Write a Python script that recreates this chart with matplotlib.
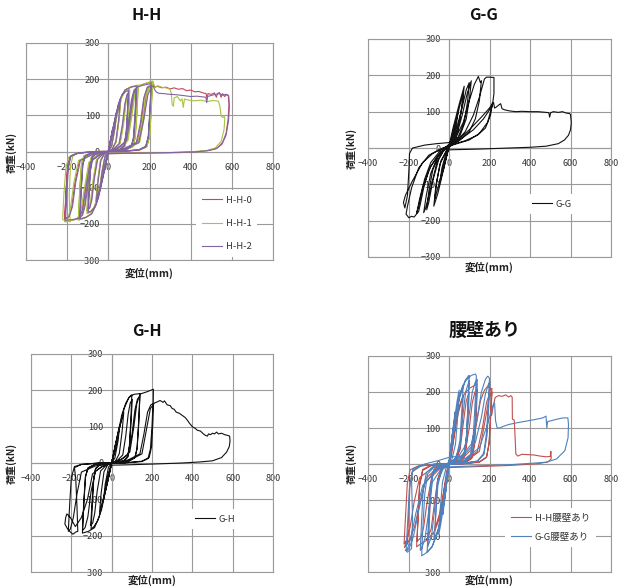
import matplotlib
matplotlib.use('Agg')
import matplotlib.pyplot as plt

plt.rcParams['font.family'] = ['Noto Sans CJK JP', 'DejaVu Sans']

# ---------------- data (displacement mm, load kN) ----------------
XTICKS = [-400, -200, 0, 200, 400, 600, 800]
YTICKS = [-300, -200, -100, 0, 100, 200, 300]

TITLES = ['H-H', 'G-G', 'G-H', '腰壁あり']
XLABEL = '変位(mm)'
YLABEL = '荷重(kN)'

HH0_PTS = [
    (0, 0), (10, 30), (20, 58), (12, 30), (0, 2), (-10, -28), (-20, -55), (-12, -28), (0, -1),
    (0, 0), (20, 55), (40, 108), (32, 65), (16, 15), (0, 0), (-20, -52), (-40, -102), (-32, -60), (-16, -13), (0, 0),
    (30, 78), (60, 142), (52, 90), (38, 28), (18, 5), (0, 0), (-30, -75), (-60, -138), (-52, -85), (-38, -26), (-18, -4), (0, 0),
    (28, 72), (50, 132), (68, 158), (86, 168), (100, 172), (95, 118), (88, 48), (80, 18), (58, 6), (28, 1), (0, 0),
    (-28, -70), (-50, -128), (-68, -155), (-86, -166), (-100, -170), (-95, -115), (-88, -45), (-80, -16), (-58, -5), (-28, -1), (0, 0),
    (30, 8), (55, 22), (70, 72), (82, 130), (92, 158), (100, 165), (95, 108), (88, 44), (80, 16), (60, 5), (30, 1), (0, 0),
    (-30, -8), (-55, -22), (-70, -75), (-82, -132), (-92, -156), (-100, -162), (-95, -105), (-88, -42), (-80, -15), (-60, -5), (-30, -1), (0, 0),
    (20, 40), (40, 100), (60, 145), (82, 170), (110, 178), (140, 182), (134, 112), (126, 42), (116, 15), (85, 5), (35, 0), (0, 0),
    (-20, -38), (-40, -98), (-60, -145), (-82, -172), (-110, -182), (-140, -188), (-134, -112), (-126, -40), (-116, -14), (-85, -4), (-35, 0), (0, 0),
    (40, 8), (80, 22), (100, 72), (115, 140), (128, 170), (140, 176), (134, 105), (126, 38), (114, 14), (80, 4), (30, 0), (0, 0),
    (-40, -8), (-80, -22), (-100, -75), (-115, -145), (-128, -175), (-140, -182), (-134, -105), (-126, -36), (-114, -13), (-80, -4), (-30, 0), (0, 0),
    (50, 10), (90, 30), (110, 100), (125, 160), (142, 181), (170, 186), (210, 193), (204, 120), (196, 45), (184, 15), (150, 5), (60, 0), (0, 0),
    (-50, -10), (-90, -30), (-112, -105), (-128, -165), (-145, -186), (-175, -190), (-212, -193), (-206, -120), (-198, -45), (-186, -15), (-150, -5), (-60, 0), (0, 0),
    (80, 8), (140, 25), (160, 80), (175, 150), (190, 178), (210, 186), (204, 112), (196, 40), (182, 13), (150, 4), (60, 0), (0, 0),
    (-80, -8), (-140, -25), (-162, -85), (-178, -155), (-194, -182), (-212, -188), (-206, -112), (-198, -40), (-184, -13), (-150, -4), (-60, 0), (0, 0),
    (90, 8), (150, 25), (170, 90), (185, 160), (200, 182), (215, 192), (225, 178), (240, 180), (260, 176), (280, 178), (300, 173), (320, 176), (340, 172), (360, 174), (380, 168), (400, 170), (420, 165), (440, 166), (460, 162), (475, 160), (480, 145), (484, 160), (500, 158), (515, 162), (525, 150), (530, 160), (540, 163), (548, 150), (555, 160), (565, 152), (575, 158), (583, 155), (586, 130), (582, 90), (572, 50), (555, 25), (530, 10), (490, 3), (440, 0), (350, -3), (200, -4), (60, -5), (0, -6),
]

HH1_PTS = [
    (0, 0), (10, 28), (20, 55), (12, 28), (0, 2), (-10, -27), (-20, -52), (-12, -26), (0, -1),
    (0, 0), (20, 52), (40, 104), (32, 62), (16, 14), (0, 0), (-20, -50), (-40, -100), (-32, -58), (-16, -12), (0, 0),
    (30, 75), (60, 138), (52, 86), (38, 26), (18, 4), (0, 0), (-30, -72), (-60, -135), (-52, -82), (-38, -24), (-18, -3), (0, 0),
    (28, 70), (50, 128), (70, 158), (88, 170), (104, 174), (98, 115), (90, 46), (82, 17), (60, 6), (28, 1), (0, 0),
    (-28, -68), (-50, -125), (-70, -155), (-88, -168), (-104, -172), (-98, -112), (-90, -44), (-82, -15), (-60, -5), (-28, -1), (0, 0),
    (32, 8), (58, 22), (74, 75), (86, 135), (96, 160), (104, 166), (98, 105), (90, 42), (82, 15), (60, 5), (30, 1), (0, 0),
    (-32, -8), (-58, -22), (-74, -78), (-86, -136), (-96, -158), (-104, -164), (-98, -102), (-90, -40), (-82, -14), (-60, -5), (-30, -1), (0, 0),
    (22, 42), (44, 104), (64, 148), (88, 172), (116, 180), (145, 184), (139, 110), (131, 40), (120, 14), (88, 5), (35, 0), (0, 0),
    (-22, -40), (-44, -100), (-64, -148), (-88, -175), (-116, -185), (-146, -190), (-139, -110), (-131, -38), (-120, -13), (-88, -4), (-35, 0), (0, 0),
    (44, 8), (84, 22), (104, 75), (119, 142), (132, 172), (145, 178), (139, 104), (130, 36), (118, 13), (82, 4), (30, 0), (0, 0),
    (-44, -8), (-84, -22), (-104, -78), (-119, -148), (-132, -178), (-145, -184), (-139, -104), (-130, -34), (-118, -12), (-82, -4), (-30, 0), (0, 0),
    (55, 10), (95, 30), (115, 100), (130, 162), (148, 182), (178, 188), (215, 195), (209, 118), (201, 44), (188, 15), (154, 5), (60, 0), (0, 0),
    (-55, -10), (-95, -30), (-118, -108), (-134, -168), (-152, -186), (-185, -192), (-215, -190), (-222, -188), (-216, -118), (-206, -44), (-192, -15), (-155, -5), (-60, 0), (0, 0),
    (84, 8), (144, 25), (164, 82), (180, 152), (196, 180), (214, 188), (208, 110), (200, 38), (186, 12), (152, 4), (60, 0), (0, 0),
    (-84, -8), (-145, -25), (-168, -88), (-184, -158), (-198, -190), (-208, -195), (-196, -192), (-186, -195), (-190, -120), (-184, -40), (-172, -12), (-150, -4), (-60, 0), (0, 0),
    (92, 8), (152, 25), (174, 92), (190, 162), (206, 186), (218, 193), (224, 176), (240, 182), (258, 178), (280, 176), (300, 172), (306, 160), (310, 130), (316, 125), (320, 148), (335, 152), (350, 140), (358, 146), (364, 122), (370, 145), (390, 142), (420, 140), (450, 142), (480, 138), (510, 141), (535, 139), (542, 125), (548, 98), (556, 94), (563, 97), (566, 92), (562, 60), (548, 28), (520, 10), (480, 3), (420, 0), (300, -3), (120, -5), (0, -6),
]

HH2_PTS = [
    (0, 0), (10, 32), (20, 60), (12, 32), (0, 2), (-10, -30), (-20, -57), (-12, -29), (0, -1),
    (0, 0), (20, 57), (40, 110), (32, 66), (16, 15), (0, 0), (-20, -54), (-40, -105), (-32, -62), (-16, -14), (0, 0),
    (30, 80), (58, 140), (50, 88), (36, 27), (16, 4), (0, 0), (-30, -77), (-58, -136), (-50, -84), (-36, -25), (-16, -3), (0, 0),
    (26, 74), (48, 130), (66, 156), (84, 166), (98, 168), (93, 114), (86, 46), (78, 17), (56, 6), (26, 1), (0, 0),
    (-26, -72), (-48, -128), (-66, -154), (-84, -165), (-98, -168), (-93, -112), (-86, -44), (-78, -15), (-56, -5), (-26, -1), (0, 0),
    (28, 8), (52, 22), (68, 74), (80, 132), (90, 156), (98, 162), (93, 104), (86, 42), (78, 15), (58, 5), (28, 1), (0, 0),
    (-28, -8), (-52, -22), (-68, -76), (-80, -134), (-90, -156), (-98, -160), (-93, -102), (-86, -40), (-78, -14), (-58, -5), (-28, -1), (0, 0),
    (18, 42), (38, 102), (58, 146), (80, 170), (108, 178), (136, 181), (130, 110), (122, 40), (112, 14), (82, 5), (32, 0), (0, 0),
    (-18, -40), (-38, -100), (-58, -146), (-80, -172), (-108, -182), (-138, -186), (-132, -110), (-124, -38), (-114, -13), (-82, -4), (-32, 0), (0, 0),
    (38, 8), (76, 22), (96, 74), (112, 142), (125, 170), (137, 176), (131, 104), (123, 36), (110, 13), (78, 4), (28, 0), (0, 0),
    (-38, -8), (-76, -22), (-96, -78), (-112, -148), (-125, -176), (-138, -182), (-132, -104), (-124, -34), (-110, -12), (-78, -4), (-28, 0), (0, 0),
    (48, 10), (88, 30), (108, 100), (122, 158), (140, 178), (168, 183), (208, 188), (202, 116), (194, 42), (182, 14), (148, 5), (60, 0), (0, 0),
    (-48, -10), (-88, -30), (-110, -104), (-126, -164), (-143, -184), (-172, -188), (-208, -190), (-202, -118), (-194, -44), (-182, -14), (-148, -5), (-60, 0), (0, 0),
    (76, 8), (136, 25), (156, 80), (172, 148), (188, 176), (208, 182), (202, 108), (194, 38), (180, 12), (148, 4), (60, 0), (0, 0),
    (-76, -8), (-136, -25), (-158, -84), (-174, -152), (-190, -180), (-210, -185), (-204, -108), (-196, -38), (-182, -12), (-148, -4), (-60, 0), (0, 0),
    (86, 8), (148, 25), (172, 88), (192, 156), (208, 178), (218, 182), (224, 172), (232, 165), (245, 161), (270, 160), (300, 158), (330, 157), (360, 155), (400, 152), (430, 153), (460, 151), (474, 150), (478, 135), (482, 152), (500, 155), (520, 158), (540, 160), (555, 156), (570, 158), (585, 154), (588, 125), (584, 85), (572, 45), (552, 20), (522, 7), (480, 2), (420, -1), (300, -3), (120, -5), (0, -6),
]

GG_PTS = [
    (0, 0), (15, 35), (30, 70), (20, 40), (0, 5), (-15, -30), (-30, -65), (-20, -35), (0, 0),
    (20, 45), (45, 100), (35, 60), (15, 20), (0, 5), (-20, -40), (-45, -95), (-35, -55), (-15, -15), (0, 5),
    (25, 50), (55, 120), (70, 150), (60, 100), (40, 40), (15, 15), (0, 5), (-25, -45), (-55, -110), (-70, -140), (-60, -90), (-40, -35), (-15, -10), (0, 5),
    (20, 55), (50, 120), (75, 170), (66, 120), (45, 55), (15, 15), (0, 5), (-25, -55), (-55, -125), (-75, -160), (-66, -110), (-45, -45), (-15, -10), (0, 5),
    (30, 40), (60, 100), (85, 160), (100, 180), (92, 130), (75, 70), (45, 30), (10, 12), (-20, 0), (-50, -30), (-80, -90), (-100, -150), (-110, -170), (-100, -120), (-80, -60), (-50, -20), (-10, 5),
    (35, 30), (65, 90), (90, 150), (110, 185), (102, 140), (85, 80), (55, 35), (15, 12), (-25, -5), (-60, -40), (-90, -110), (-115, -165), (-125, -178), (-112, -130), (-90, -70), (-55, -22), (-10, 4),
    (30, 25), (70, 70), (100, 130), (125, 175), (145, 197), (155, 180), (160, 185), (150, 130), (130, 80), (100, 45), (50, 20), (0, 8), (-40, -10), (-90, -50), (-130, -110), (-150, -160), (-160, -180), (-145, -140), (-120, -85), (-90, -40), (-40, -5), (0, 8),
    (40, 20), (80, 45), (120, 90), (150, 140), (175, 190), (185, 195), (200, 195), (222, 194), (222, 150), (215, 120), (190, 70), (150, 40), (100, 22), (40, 12), (0, 5), (-50, -5), (-100, -20), (-150, -55), (-185, -110), (-205, -160), (-212, -182), (-198, -192), (-185, -188), (-172, -190), (-158, -180), (-150, -175), (-140, -150), (-125, -110), (-100, -60), (-60, -25), (-20, -5), (10, 6),
    (60, 25), (120, 50), (170, 80), (200, 105), (215, 125), (205, 90), (180, 55), (140, 35), (80, 20), (20, 10), (-30, 0), (-80, -15), (-130, -40), (-180, -90), (-215, -130), (-225, -150), (-218, -165), (-205, -130), (-198, -60), (-195, -15), (-180, 0), (-120, 8), (-60, 12), (0, 15),
    (50, 25), (100, 50), (160, 85), (200, 110), (220, 125), (225, 110), (232, 112), (245, 118), (255, 122), (262, 108), (275, 105), (300, 102), (330, 100), (360, 101), (400, 100), (440, 100), (480, 98), (493, 97), (497, 85), (502, 97), (515, 100), (540, 98), (560, 100), (580, 96), (595, 95), (600, 92), (604, 70), (600, 50), (590, 35), (570, 22), (540, 12), (480, 5), (400, 2), (300, 0), (150, -3), (0, -5),
]

GH_PTS = [
    (0, 0), (12, 32), (22, 58), (15, 32), (0, 2), (-12, -30), (-22, -55), (-15, -30), (0, -1),
    (0, 0), (20, 55), (40, 105), (32, 62), (16, 14), (0, 0), (-20, -52), (-40, -100), (-32, -58), (-16, -12), (0, 0),
    (30, 78), (60, 140), (52, 88), (38, 26), (18, 4), (0, 0), (-30, -75), (-60, -135), (-52, -82), (-38, -24), (-18, -3), (0, 0),
    (28, 72), (50, 132), (70, 165), (88, 182), (100, 188), (95, 120), (88, 48), (80, 18), (58, 6), (28, 1), (0, 0),
    (-28, -70), (-50, -128), (-70, -160), (-88, -175), (-102, -182), (-96, -115), (-89, -45), (-80, -16), (-58, -5), (-28, -1), (0, 0),
    (30, 8), (55, 22), (70, 75), (82, 135), (92, 165), (102, 175), (96, 110), (88, 44), (80, 16), (60, 5), (30, 1), (0, 0),
    (-30, -8), (-55, -22), (-72, -78), (-84, -138), (-94, -165), (-104, -172), (-97, -105), (-89, -42), (-80, -15), (-60, -5), (-30, -1), (0, 0),
    (20, 40), (40, 100), (62, 150), (85, 180), (110, 189), (140, 191), (134, 115), (126, 42), (116, 15), (85, 5), (35, 0), (0, 0),
    (-20, -38), (-40, -98), (-62, -148), (-85, -178), (-115, -188), (-145, -193), (-138, -112), (-130, -40), (-118, -14), (-85, -4), (-35, 0), (0, 0),
    (40, 8), (80, 22), (100, 75), (115, 145), (128, 176), (140, 184), (134, 105), (126, 38), (114, 14), (80, 4), (30, 0), (0, 0),
    (-40, -8), (-80, -22), (-102, -78), (-118, -148), (-132, -178), (-145, -186), (-138, -105), (-130, -36), (-116, -13), (-80, -4), (-30, 0), (0, 0),
    (50, 10), (90, 30), (110, 100), (125, 165), (142, 190), (175, 196), (207, 203), (205, 120), (198, 45), (186, 15), (150, 5), (60, 0), (0, 0),
    (-50, -10), (-95, -30), (-120, -100), (-150, -150), (-180, -175), (-205, -150), (-222, -140), (-228, -150), (-232, -168), (-220, -180), (-205, -190), (-192, -196), (-178, -190), (-168, -188), (-172, -120), (-178, -45), (-185, -10), (-150, -4), (-60, 0), (0, 0),
    (80, 8), (140, 25), (160, 80), (178, 140), (194, 160), (205, 163), (200, 100), (192, 38), (180, 12), (150, 4), (60, 0), (0, 0),
    (-80, -8), (-150, -25), (-172, -85), (-190, -150), (-205, -182), (-215, -188), (-208, -112), (-200, -40), (-186, -13), (-150, -4), (-60, 0), (0, 0),
    (90, 8), (150, 25), (172, 90), (192, 150), (205, 160), (212, 165), (225, 168), (240, 172), (255, 167), (262, 171), (275, 160), (290, 158), (300, 150), (310, 148), (320, 140), (335, 137), (350, 131), (365, 125), (375, 118), (385, 110), (400, 100), (415, 95), (425, 90), (440, 88), (455, 80), (465, 76), (475, 74), (480, 80), (490, 78), (500, 82), (510, 80), (520, 85), (530, 80), (545, 82), (560, 78), (575, 76), (585, 74), (587, 60), (583, 45), (570, 30), (545, 15), (500, 6), (440, 3), (350, 0), (200, -3), (80, -5), (0, -6),
]

HHW_PTS = [
    (0, 0), (10, 45), (20, 85), (13, 50), (0, 5), (-10, -42), (-20, -80), (-13, -45), (0, -3),
    (0, 0), (18, 75), (35, 135), (27, 85), (12, 22), (0, 2), (-18, -70), (-35, -128), (-27, -80), (-12, -20), (0, 0),
    (25, 90), (50, 160), (70, 190), (64, 120), (55, 50), (40, 15), (15, 3), (0, 0), (-25, -85), (-50, -155), (-70, -185), (-64, -115), (-55, -45), (-40, -13), (-15, -2), (0, 0),
    (30, 10), (55, 40), (70, 110), (85, 175), (100, 200), (94, 125), (86, 50), (75, 18), (45, 5), (0, 0),
    (-30, -10), (-55, -40), (-72, -110), (-88, -180), (-100, -198), (-94, -120), (-86, -45), (-75, -15), (-45, -4), (0, 0),
    (20, 60), (45, 140), (70, 190), (100, 210), (125, 218), (138, 222), (132, 140), (124, 55), (112, 18), (80, 5), (30, 0), (0, 0),
    (-20, -58), (-45, -135), (-75, -190), (-110, -212), (-140, -222), (-160, -230), (-153, -150), (-145, -60), (-130, -18), (-90, -5), (-30, 0), (0, 0),
    (40, 10), (80, 35), (100, 100), (115, 170), (128, 200), (140, 208), (134, 130), (126, 50), (112, 15), (80, 4), (30, 0), (0, 0),
    (-40, -10), (-85, -35), (-108, -105), (-125, -175), (-140, -205), (-158, -215), (-152, -140), (-145, -55), (-130, -15), (-90, -4), (-30, 0), (0, 0),
    (60, 12), (110, 40), (135, 110), (155, 175), (175, 205), (190, 215), (195, 212), (200, 218), (205, 205), (212, 210), (206, 140), (198, 60), (186, 20), (150, 6), (60, 0), (0, 0),
    (-60, -12), (-115, -40), (-145, -110), (-170, -175), (-195, -210), (-210, -225), (-220, -232), (-212, -215), (-205, -222), (-200, -150), (-193, -60), (-180, -18), (-140, -5), (-60, 0), (0, 0),
    (80, 10), (140, 35), (165, 100), (185, 170), (200, 195), (212, 200), (206, 135), (198, 55), (185, 18), (150, 5), (60, 0), (0, 0),
    (-80, -10), (-145, -38), (-172, -105), (-192, -175), (-208, -210), (-222, -222), (-214, -140), (-206, -55), (-192, -16), (-150, -5), (-60, 0), (0, 0),
    (90, 10), (150, 35), (175, 110), (195, 175), (210, 200), (210, 135), (215, 150), (228, 185), (245, 190), (262, 188), (280, 192), (295, 186), (305, 190), (312, 186), (313, 125), (322, 122), (326, 80), (330, 28), (340, 22), (360, 27), (390, 26), (420, 25), (450, 22), (480, 20), (500, 21), (503, 35), (505, 15), (490, 6), (440, 1), (300, -4), (100, -8), (0, -10),
]

GGW_PTS = [
    (0, 0), (10, 50), (20, 100), (14, 60), (0, 8), (-10, -45), (-20, -95), (-14, -55), (0, -5),
    (0, 0), (15, 75), (30, 145), (24, 95), (10, 28), (0, 4), (-15, -70), (-30, -140), (-24, -90), (-10, -24), (0, 0),
    (20, 95), (40, 175), (50, 205), (44, 140), (32, 55), (14, 12), (0, 0), (-20, -90), (-40, -165), (-50, -195), (-44, -130), (-32, -50), (-14, -10), (0, 0),
    (25, 105), (50, 190), (70, 220), (64, 155), (54, 65), (36, 18), (12, 3), (0, 0), (-25, -100), (-50, -180), (-72, -210), (-66, -150), (-55, -60), (-36, -15), (-12, -2), (0, 0),
    (25, 100), (55, 195), (80, 232), (95, 244), (100, 246), (94, 170), (86, 75), (74, 25), (45, 6), (10, 0), (0, 0),
    (-25, -95), (-55, -190), (-82, -228), (-100, -240), (-108, -245), (-102, -165), (-94, -70), (-80, -22), (-45, -5), (-10, 0), (0, 0),
    (30, 15), (55, 50), (68, 130), (82, 200), (100, 232), (94, 160), (86, 70), (72, 22), (45, 5), (0, 0),
    (-30, -15), (-58, -50), (-72, -130), (-86, -200), (-105, -230), (-98, -155), (-90, -65), (-76, -20), (-45, -4), (0, 0),
    (20, 80), (50, 180), (80, 230), (110, 246), (130, 250), (135, 245), (129, 170), (120, 80), (106, 25), (70, 6), (20, 0), (0, 0),
    (-20, -75), (-50, -175), (-85, -232), (-115, -248), (-135, -255), (-129, -175), (-120, -85), (-106, -28), (-70, -6), (-20, 0), (0, 0),
    (40, 15), (80, 50), (98, 130), (115, 200), (130, 228), (140, 235), (134, 160), (126, 70), (110, 22), (75, 5), (20, 0), (0, 0),
    (-40, -15), (-82, -50), (-100, -130), (-118, -205), (-135, -235), (-142, -240), (-136, -165), (-128, -75), (-112, -24), (-75, -5), (-20, 0), (0, 0),
    (60, 20), (110, 55), (140, 130), (160, 200), (178, 232), (185, 240), (192, 244), (200, 238), (194, 170), (186, 90), (172, 30), (140, 8), (60, 2), (0, 5),
    (-60, -15), (-120, -55), (-150, -130), (-175, -200), (-195, -232), (-205, -240), (-215, -240), (-205, -245), (-195, -240), (-185, -235), (-180, -150), (-185, -40), (-178, -13), (-120, 0), (-50, 10), (3, 19),
    (70, 22), (130, 60), (160, 130), (180, 195), (195, 222), (202, 228), (196, 160), (188, 80), (172, 26), (140, 8), (60, 0), (0, 0),
    (-70, -20), (-130, -60), (-165, -140), (-188, -205), (-205, -235), (-212, -240), (-204, -160), (-196, -70), (-182, -22), (-140, -6), (-60, 0), (0, 0),
    (80, 15), (150, 45), (190, 110), (215, 160), (225, 170), (230, 120), (238, 100), (250, 100), (270, 105), (297, 110), (340, 115), (380, 119), (420, 123), (463, 128), (479, 133), (483, 100), (487, 118), (496, 119), (530, 124), (562, 128), (587, 128), (590, 110), (588, 73), (572, 37), (531, 14), (480, 5), (432, 3), (300, -2), (100, -6), (0, -8),
]

PANELS = [
    # (axes box px: left, top, right, bottom), series [(label, points, colour)]
    ((26, 43, 273, 260), [('H-H-0', HH0_PTS, '#c9435c'), ('H-H-1', HH1_PTS, '#a9c23f'), ('H-H-2', HH2_PTS, '#8064a2')]),
    ((368, 39, 611, 257), [('G-G', GG_PTS, '#111111')]),
    ((31, 354, 273, 572), [('G-H', GH_PTS, '#111111')]),
    ((368, 356, 611, 572), [('H-H腰壁あり', HHW_PTS, '#c0504d'), ('G-G腰壁あり', GGW_PTS, '#4f81bd')]),
]
TITLE_POS = [(147, 15), (484, 15), (147, 331), (485, 330)]
TITLE_SIZE = [11.5, 11.5, 11.5, 13]
XLABEL_POS = [(149, 273), (489, 267), (152, 580), (489, 580)]
YLABEL_POS = [(11, 152), (351, 148), (11, 463), (351, 463)]
LEGEND_BOX = [(196, 190, 1.5), (526, 194, 1.45), (189, 509, 1.45), (505, 508, 1.05)]

W, H = 618, 587
GRID = '#9a9a9a'
TXT = '#333333'

fig = plt.figure(figsize=(W / 100, H / 100), dpi=100)

for i, ((l, t, r, b), series) in enumerate(PANELS):
    ax = fig.add_axes([l / W, 1 - b / H, (r - l) / W, (b - t) / H])
    for label, pts, col in series:
        xs = [p[0] for p in pts]
        ys = [p[1] for p in pts]
        ax.plot(xs, ys, color=col, lw=0.8, label=label, zorder=3)
    ax.set_xlim(-400, 800)
    ax.set_ylim(-300, 300)
    ax.set_xticks(XTICKS)
    ax.set_yticks(YTICKS)
    ax.set_axisbelow(True)
    ax.grid(True, color=GRID, lw=0.8)
    ax.spines['left'].set_position(('data', 0))
    ax.spines['bottom'].set_position(('data', 0))
    for s in ax.spines.values():
        s.set_color(GRID)
        s.set_linewidth(0.8)
        s.set_zorder(1)
    ax.axvline(-400, color=GRID, lw=0.8, clip_on=False, zorder=1)
    ax.axhline(-300, color=GRID, lw=0.8, clip_on=False, zorder=1)
    ax.tick_params(length=0, labelsize=6.5, labelcolor=TXT)
    ax.tick_params(axis='y', pad=6)
    ax.tick_params(axis='x', pad=8)

    lx, ly, ls = LEGEND_BOX[i]
    ax_w, ax_h = r - l, b - t
    leg = ax.legend(loc='upper left', bbox_to_anchor=((lx - l) / ax_w, (b - ly) / ax_h),
                    borderaxespad=0, frameon=True, fancybox=False, facecolor='white',
                    edgecolor='none', framealpha=1, fontsize=6.8, handlelength=2.2,
                    handletextpad=0.35, labelspacing=ls, borderpad=0.6)
    for tx in leg.get_texts():
        tx.set_color(TXT)
    leg.set_zorder(5)

    tx, ty = TITLE_POS[i]
    fig.text(tx / W, 1 - ty / H, TITLES[i], ha='center', va='center',
             fontsize=TITLE_SIZE[i], fontweight='bold', color='#111111')
    xx, xy = XLABEL_POS[i]
    fig.text(xx / W, 1 - xy / H, XLABEL, ha='center', va='center',
             fontsize=7.5, fontweight='bold', color='#222222')
    yx, yy = YLABEL_POS[i]
    fig.text(yx / W, 1 - yy / H, YLABEL, ha='center', va='center', rotation=90,
             fontsize=7.2, fontweight='bold', color='#222222')

fig.savefig('out.png', dpi=100)
